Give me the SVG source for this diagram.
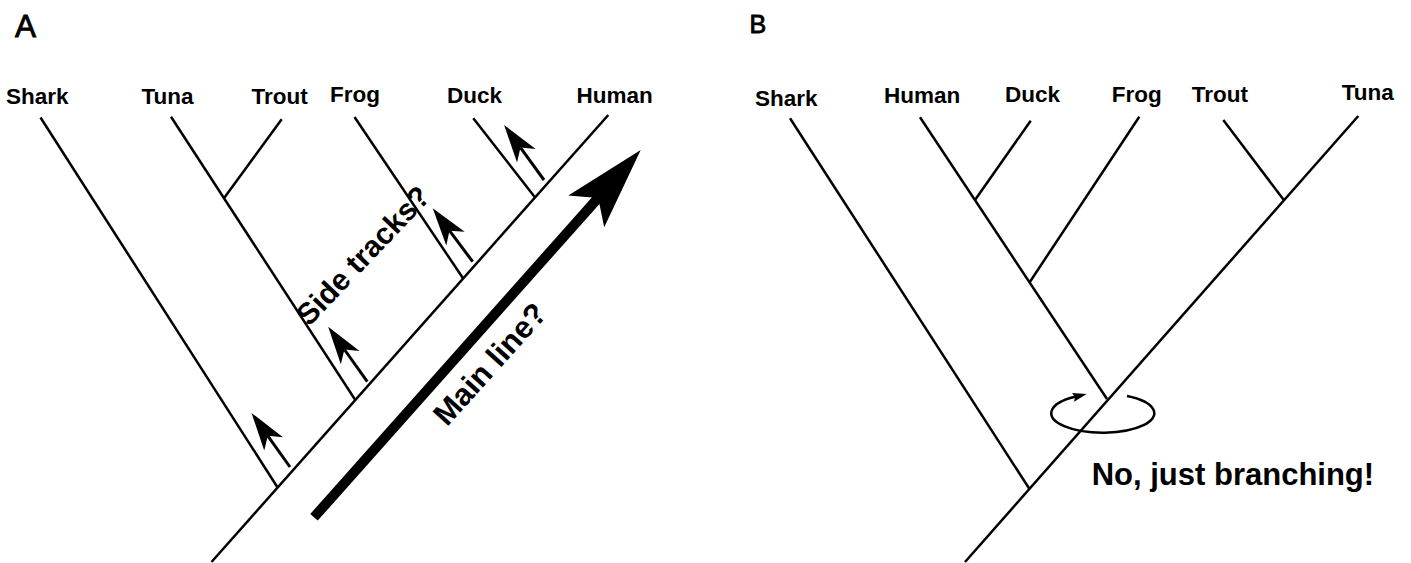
<svg xmlns="http://www.w3.org/2000/svg" width="1411" height="563" viewBox="0 0 1411 563">
<style>
.ln{stroke:#000;stroke-width:2.5;fill:none;stroke-linecap:butt}
.sa{stroke:#000;stroke-width:3;fill:none}
.lbl{font-family:"Liberation Sans",Arial,sans-serif;font-weight:bold;font-size:22.5px;fill:#000}
.ann{font-family:"Liberation Sans",Arial,sans-serif;font-weight:bold;fill:#000}
.pnl{font-family:"Liberation Sans",Arial,sans-serif;fill:#000;stroke:#000;stroke-width:0.9}
</style>
<defs>
<marker id="ah" markerUnits="userSpaceOnUse" viewBox="0 0 38 24" markerWidth="38" markerHeight="24" refX="10" refY="12" orient="auto"><path d="M38,12 L0,0.5 L10,12 L0,23.5 Z" fill="#000"/></marker>
<marker id="ah2" markerUnits="userSpaceOnUse" viewBox="0 0 14 10" markerWidth="14" markerHeight="10" refX="2" refY="5" orient="auto"><path d="M14,5 L0,0.5 L2,5 L0,9.5 Z" fill="#000"/></marker>
</defs>
<rect width="1411" height="563" fill="#fff"/>

<!-- Panel A -->
<text class="pnl" x="15" y="36.5" font-size="32" textLength="21" lengthAdjust="spacingAndGlyphs">A</text>
<g id="A-shark"><text class="lbl" x="6" y="103.5">Shark</text></g>
<g id="A-tuna"><text class="lbl" x="141.5" y="103.5">Tuna</text></g>
<g id="A-trout"><text class="lbl" x="251.5" y="103.5">Trout</text></g>
<g id="A-frog"><text class="lbl" x="330" y="102">Frog</text></g>
<g id="A-duck"><text class="lbl" x="447" y="103">Duck</text></g>
<g id="A-human"><text class="lbl" x="576.5" y="103">Human</text></g>

<g id="A-tree">
<line class="ln" x1="608.3" y1="115" x2="211.5" y2="562"/>
<line class="ln" x1="40.5" y1="117.5" x2="277.6" y2="487.5"/>
<line class="ln" x1="171" y1="116.7" x2="355.3" y2="400"/>
<line class="ln" x1="281.7" y1="119.3" x2="224.5" y2="197.5"/>
<line class="ln" x1="354.5" y1="117" x2="463.2" y2="278.5"/>
<line class="ln" x1="473.3" y1="118.3" x2="535.1" y2="197.5"/>
</g>

<g id="A-arrows">
<line class="sa" x1="290" y1="467" x2="267.8" y2="435.8" marker-end="url(#ah)"/>
<line class="sa" x1="367.3" y1="381.7" x2="344.4" y2="349.5" marker-end="url(#ah)"/>
<line class="sa" x1="472.7" y1="261.7" x2="449.5" y2="230.7" marker-end="url(#ah)"/>
<line class="sa" x1="544" y1="180" x2="520.5" y2="147.6" marker-end="url(#ah)"/>
<line x1="314" y1="517.3" x2="598.2" y2="197.9" stroke="#000" stroke-width="10"/>
<path d="M640.7,150 L568.3,195.4 L598.2,197.9 L604.2,227.2 Z" fill="#000"/>
</g>

<text class="ann" font-size="30" text-anchor="middle" transform="translate(370.4,262.6) rotate(-46.5)">Side tracks?</text>
<text class="ann" font-size="31" text-anchor="middle" transform="translate(497.7,371) rotate(-48)">Main line?</text>

<!-- Panel B -->
<text class="pnl" x="749.5" y="33" font-size="25">B</text>
<g id="B-shark"><text class="lbl" x="755" y="106">Shark</text></g>
<g id="B-human"><text class="lbl" x="884" y="103.3">Human</text></g>
<g id="B-duck"><text class="lbl" x="1005" y="102">Duck</text></g>
<g id="B-frog"><text class="lbl" x="1111.7" y="102">Frog</text></g>
<g id="B-trout"><text class="lbl" x="1191.7" y="101.7">Trout</text></g>
<g id="B-tuna"><text class="lbl" x="1341.7" y="99.5">Tuna</text></g>

<g id="B-tree">
<line class="ln" x1="1358.3" y1="116" x2="965" y2="562"/>
<line class="ln" x1="790" y1="118.3" x2="1029.5" y2="489"/>
<line class="ln" x1="920" y1="117.3" x2="1107" y2="399"/>
<line class="ln" x1="1030.7" y1="120.7" x2="975" y2="200"/>
<line class="ln" x1="1139.3" y1="116.7" x2="1030" y2="281.7"/>
<line class="ln" x1="1223.3" y1="120" x2="1283.8" y2="200"/>
</g>

<g id="B-rotation">
<path class="ln" d="M1127,396 A51.5 19.5 0 1 1 1075,396.8" stroke-width="2" marker-end="url(#ah2)"/>
</g>
<text class="ann" font-size="31" x="1091.7" y="485">No, just branching!</text>
</svg>
